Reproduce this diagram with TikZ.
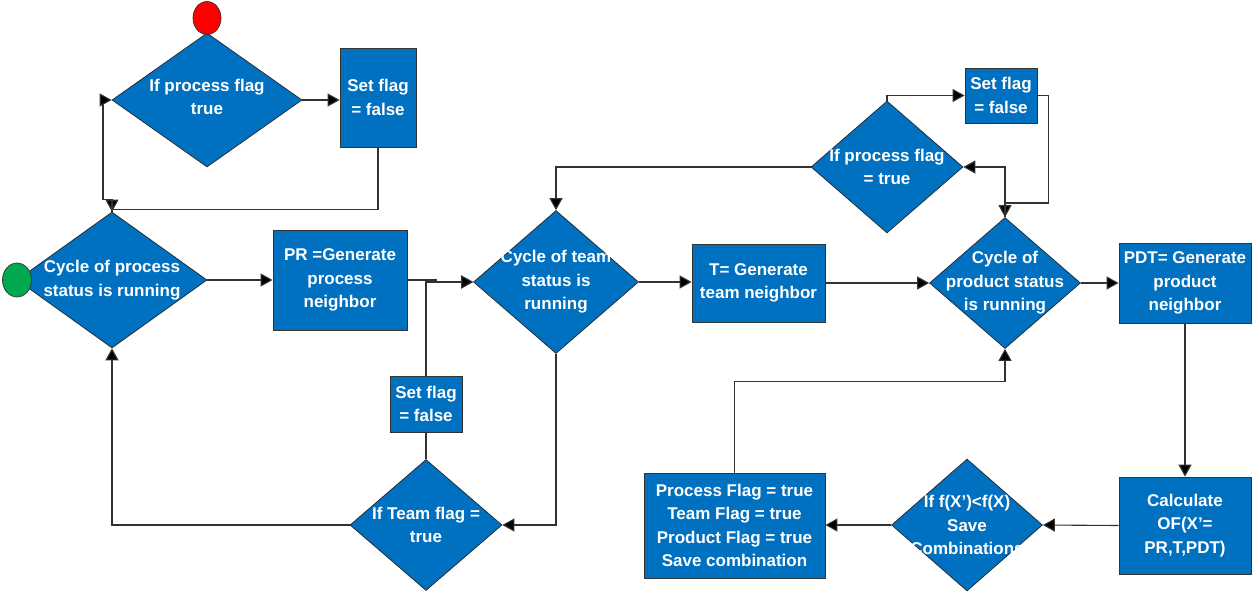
\documentclass[tikz,border=0pt]{standalone}
\usepackage{fontspec}
\setmainfont{Liberation Sans}
\usetikzlibrary{shapes.geometric,arrows.meta}
\definecolor{boxblue}{RGB}{0,112,192}
\definecolor{edgegray}{RGB}{50,50,50}
\definecolor{startgreen}{RGB}{0,168,80}
\definecolor{stopred}{RGB}{255,0,0}
\begin{document}
\begin{tikzpicture}[x=1pt,y=-1pt,
  txt/.style={text=white,font=\fontsize{17}{23.4}\selectfont\bfseries,align=center,inner sep=0pt},
  proc/.style={txt,rectangle,fill=boxblue,draw=black!80,line width=0.8pt,inner sep=0pt},
  dia/.style={diamond,fill=boxblue,draw=black!85,line width=0.7pt,inner sep=0pt},
  term/.style={ellipse,draw=black!80,line width=0.7pt,inner sep=0pt},
  link/.style={draw=edgegray,line width=1.1pt},
  arr/.style={link,-{Triangle[length=12pt,width=13pt,fill=black]}}]
\useasboundingbox (0,0) rectangle (1252,592);

% decision diamonds (text laid over them)
\node[dia,minimum width=190pt,minimum height=136pt,
  label={[txt]center:{Cycle of process\\status is running}}] (d1) at (112,280) {};
\node[dia,minimum width=190pt,minimum height=134pt,
  label={[txt,yshift=3pt]center:{If process flag\\true}}] (d2) at (207,100) {};
\node[dia,minimum width=165pt,minimum height=143pt,
  label={[txt]center:{Cycle of team\\status is\\running}}] (d3) at (556,282) {};
\node[dia,minimum width=152pt,minimum height=131pt,
  label={[txt]center:{If Team flag =\\true}}] (d4) at (426,525) {};
\node[dia,minimum width=152pt,minimum height=132pt,
  label={[txt]center:{If process flag\\= true}}] (d5) at (887,167) {};
\node[dia,minimum width=151pt,minimum height=131pt,
  label={[txt]center:{Cycle of\\product status\\is running}}] (d6) at (1005,283) {};
\node[dia,minimum width=151pt,minimum height=132pt,
  label={[txt]center:{If f(X’)<f(X)\\Save\\Combinations}}] (d7) at (967,525) {};

% process boxes
\node[proc,minimum width=76pt,minimum height=99pt] (sf1) at (378,97.5) {Set flag\\= false};
\node[proc,minimum width=134pt,minimum height=100pt] (pr) at (340,280) {PR =Generate\\process\\neighbor};
\node[proc,minimum width=72pt,minimum height=56pt] (sf2) at (426,404) {Set flag\\= false};
\node[proc,minimum width=133pt,minimum height=78pt] (tb) at (758.5,283) {T= Generate\\team neighbor};
\node[proc,minimum width=72pt,minimum height=55pt] (sf3) at (1001,95.5) {Set flag\\= false};
\node[proc,minimum width=132pt,minimum height=80pt] (pdt) at (1185,283) {PDT= Generate\\product\\neighbor};
\node[proc,minimum width=132pt,minimum height=97pt] (calc) at (1185,525.5) {Calculate\\OF(X’=\\PR,T,PDT)};
\node[proc,minimum width=181pt,minimum height=105pt] (flags) at (734.5,525.5) {Process Flag = true\\Team Flag = true\\Product Flag = true\\Save combination};

% start and stop markers
\node[term,fill=startgreen,minimum width=29pt,minimum height=34pt] (start) at (17,280) {};
\node[term,fill=stopred,minimum width=28pt,minimum height=33pt] (stop) at (207,18) {};

% connectors
\draw[arr] (d1.east) -- (d1.east -| pr.west);
\draw[arr] (d2.east) -- (d2.east -| sf1.west);
\draw[arr] (sf1.south) -- ++(0,62) -| (d1.north);
\draw[arr] (d1.north) -- ++(0,-12) -- ++(-9,0) |- (d2.west);
\draw[arr] (d4.west) -| (d1.south);
\draw[arr] (pr.east) -- ++(29,0) |- (d3.west);
\draw[arr] (sf2.north) |- (d3.west);
\draw[link] (d4.north) -- (sf2.south);
\draw[arr] (d3.south) |- (d4.east);
\draw[arr] (d3.east) -- (d3.east -| tb.west);
\draw[arr] (d5.west) -| (d3.north);
\draw[arr] (tb.east) -- (tb.east -| d6.west);
\draw[arr] (d6.east) -- (d6.east -| pdt.west);
\draw[arr] (d5.north) |- (sf3.west);
\draw[arr] (sf3.east) -- ++(11,0) -- ++(0,107.5) -| (d6.north);
\draw[arr] (d6.north) |- (d5.east);
\draw[arr] (pdt.south) -- (calc.north);
\draw[arr] (calc.west) -- (d7.east);
\draw[arr] (d7.west) -- (d7.west -| flags.east);
\draw[arr] (flags.north) -- ++(0,-91) -| (d6.south);
\end{tikzpicture}
\end{document}
